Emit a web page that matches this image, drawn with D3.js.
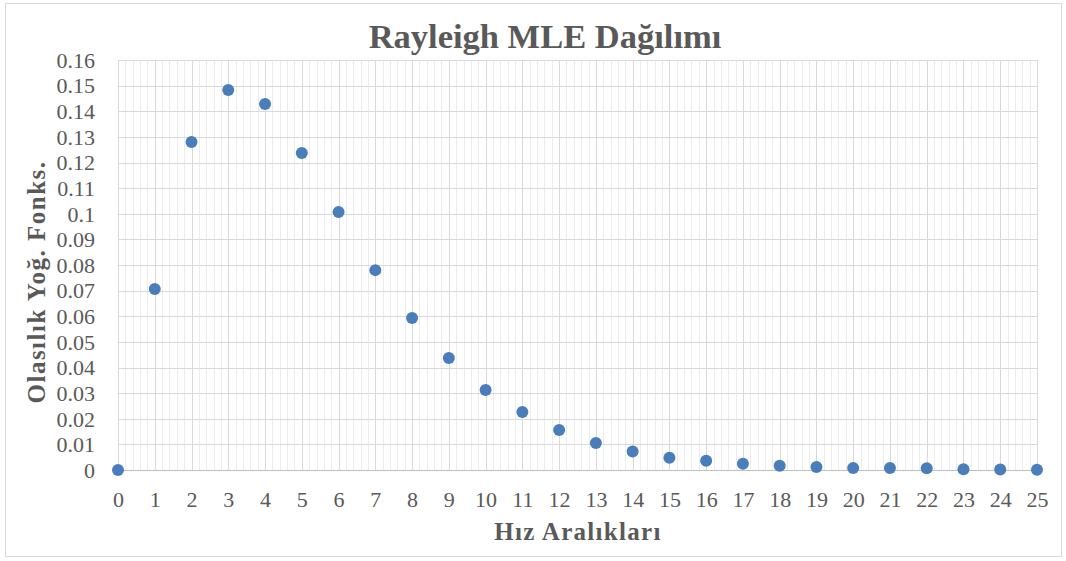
<!DOCTYPE html>
<html><head><meta charset="utf-8">
<script src="https://cdn.jsdelivr.net/npm/d3@7"></script>
<style>
body{margin:0;background:#fff;}
</style></head>
<body>
<svg id="chart" width="1066" height="561"></svg>
<script>
const xValues = [0,1,2,3,4,5,6,7,8,9,10,11,12,13,14,15,16,17,18,19,20,21,22,23,24,25];
const yValues = [0,0.0706,0.128,0.1483,0.1428,0.1237,0.1007,0.078,0.0593,0.0437,0.0312,0.0226,0.0156,0.0105,0.0072,0.0048,0.0036,0.0024,0.0017,0.0012,0.0008,0.0008,0.0007,0.0003,0.0002,0.0001];
const yTicks = [0,0.01,0.02,0.03,0.04,0.05,0.06,0.07,0.08,0.09,0.1,0.11,0.12,0.13,0.14,0.15,0.16];
const xTicks = d3.range(0,26);
const title = "Rayleigh MLE Dağılımı";
const xTitle = "Hız Aralıkları";
const yTitle = "Olasılık Yoğ. Fonks.";
const FONT = "'Liberation Serif', 'Times New Roman', serif";

const svg = d3.select("#chart");
svg.append("rect").attr("x",5.5).attr("y",3.5).attr("width",1056).attr("height",553)
  .attr("fill","#fff").attr("stroke","#d9d9d9").attr("stroke-width",1);

const m = {left:118, right:1037, top:60, bottom:470};
const x = d3.scaleLinear().domain([0,25]).range([m.left,m.right]);
const y = d3.scaleLinear().domain([0,0.16]).range([m.bottom,m.top]);

const g = svg.append("g");
const minor = d3.range(0,25.001,0.2).filter(v => Math.abs(v-Math.round(v))>1e-6);
g.selectAll(".minor").data(minor).enter().append("line")
  .attr("x1",d=>Math.round(x(d))+0.5).attr("x2",d=>Math.round(x(d))+0.5)
  .attr("y1",y(0.16)).attr("y2",y(0)).attr("stroke","#ececec").attr("stroke-width",1);
g.selectAll(".hg").data(yTicks).enter().append("line")
  .attr("x1",x(0)).attr("x2",x(25))
  .attr("y1",d=>Math.round(y(d))+0.5).attr("y2",d=>Math.round(y(d))+0.5)
  .attr("stroke","#d9d9d9").attr("stroke-width",1);
g.selectAll(".vg").data(xTicks).enter().append("line")
  .attr("x1",d=>Math.round(x(d))+0.5).attr("x2",d=>Math.round(x(d))+0.5)
  .attr("y1",y(0.16)).attr("y2",y(0)).attr("stroke","#d9d9d9").attr("stroke-width",1);

const yAxis = d3.axisLeft(y).tickValues(yTicks).tickSize(0).tickPadding(23).tickFormat(d=>d3.format("~g")(+d.toFixed(2)));
const ya = svg.append("g").attr("transform",`translate(${m.left},0)`).call(yAxis);
ya.select(".domain").remove();
ya.selectAll("text").style("font-family",FONT).attr("font-size",22).attr("fill","#595959").attr("dy","0.33em");

const xAxis = d3.axisBottom(x).tickValues(xTicks).tickSize(0).tickPadding(21).tickFormat(d3.format("d"));
const xa = svg.append("g").attr("transform",`translate(0,${m.bottom})`).call(xAxis);
xa.select(".domain").attr("stroke","#bfbfbf");
xa.selectAll("text").style("font-family",FONT).attr("font-size",22).attr("fill","#595959");

svg.append("g").selectAll("circle").data(xValues).enter().append("circle")
  .attr("cx",(d)=>x(d)).attr("cy",(d,i)=>y(yValues[i])).attr("r",6)
  .attr("fill","#4a7ebb");

svg.append("text").attr("x",545).attr("y",48).attr("text-anchor","middle").style("font-family",FONT)
  .attr("font-size",34.5).attr("font-weight","bold").attr("fill","#595959").text(title);
svg.append("text").attr("x",578).attr("y",540).attr("text-anchor","middle").style("font-family",FONT)
  .style("letter-spacing","1.3px")
  .attr("font-size",25).attr("font-weight","bold").attr("fill","#595959").text(xTitle);
svg.append("text").attr("transform","translate(45,282) rotate(-90)").attr("text-anchor","middle").style("font-family",FONT)
  .style("letter-spacing","1.5px")
  .attr("font-size",25).attr("font-weight","bold").attr("fill","#595959").text(yTitle);
</script>
</body></html>
